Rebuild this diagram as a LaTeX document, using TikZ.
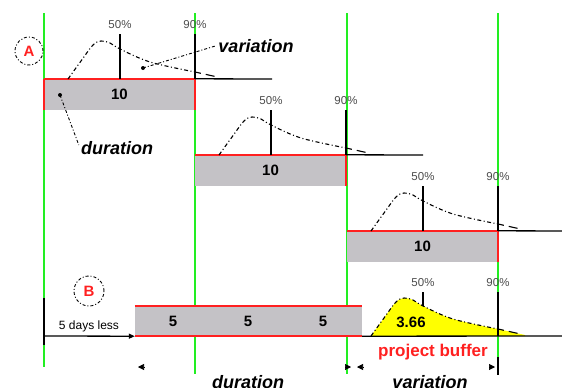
\documentclass[tikz,border=0pt]{standalone}
\usepackage{fontspec}
\setmainfont{Liberation Sans}
\usepackage{xcolor}
\usetikzlibrary{arrows.meta}
\definecolor{barfill}{HTML}{C4C2C6}
\definecolor{gridgreen}{HTML}{22EE22}
\definecolor{barred}{HTML}{FF2020}
\definecolor{bufyellow}{HTML}{FFFF00}
\newcommand{\distcurve}{plot[smooth,tension=0.55] coordinates {(24,0) (37,-18) (49,-34) (57,-38) (66,-36) (76,-30) (106,-17) (151,-7)}}

\begin{document}
\begin{tikzpicture}[x=1pt,y=-1pt,
  every node/.style={inner sep=0pt},
  gridline/.style={gridgreen, line width=1.3pt},
  redline/.style={barred, line width=1.5pt},
  axisline/.style={black, line width=1.3pt},
  markline/.style={black, line width=1.3pt},
  distline/.style={black, line width=1.1pt, dash pattern=on 4pt off 2.5pt on 1pt off 2.5pt},
  tailline/.style={black, line width=1.1pt, dash pattern=on 6pt off 5pt on 9pt off 20pt},
  leader/.style={black, line width=0.9pt, dash pattern=on 3pt off 2pt on 1pt off 2pt},
  taskbar/.style={fill=barfill, minimum width=151pt, minimum height=31pt, font=\fontsize{15}{17}\selectfont\bfseries},
  pctlbl/.style={font=\fontsize{11.5}{13}\selectfont, text=black!70},
  notelbl/.style={font=\fontsize{18}{20}\selectfont\bfseries\itshape},
  circlbl/.style={circle, draw, line width=0.9pt, dash pattern=on 3pt off 2pt on 1pt off 2pt, text=barred, font=\fontsize{15}{17}\selectfont\bfseries},
  dimtip/.style={-{Triangle[length=6pt,width=6pt]}, line width=0.6pt}]
  \useasboundingbox (0,0) rectangle (562,388);

  % time grid
  \foreach \gx/\gy in {44/367,195/374,347/374,498/374}
    \draw[gridline] (\gx,13) -- (\gx,\gy);

  % A: three tasks in series
  \foreach \i/\x/\y in {1/44/79,2/195/155,3/347/231} {
    \begin{scope}[shift={(\x,\y)}]
      \node[taskbar] (task\i) at (75.5,15.5) {10};
      \draw[redline] (task\i.south east) -- (task\i.north east) -- (task\i.north west);
      \draw[axisline] (task\i.north east) -- (228,0);
      \draw[distline] \distcurve;
      \draw[tailline] (151,-7) -- (178,-1);
      \draw[markline] (76,0) -- (76,-45);
      \draw[markline] (151,0) -- (151,-45);
      \node[pctlbl] (fifty\i) at (76,-54) {50\%};
      \node[pctlbl] (ninety\i) at (151,-54) {90\%};
    \end{scope}
  }
  \draw[redline] (task1.south west) -- (task1.north west);

  \node[circlbl, minimum size=28pt] (planA) at (29,51) {A};
  \node[notelbl] (varnote) at (256,46) {variation};
  \coordinate (vardot) at (143,68);
  \fill (vardot) circle (2);
  \draw[leader] (vardot) -- ([xshift=-3pt]varnote.west);
  \node[notelbl] (durnote) at (117,148) {duration};
  \coordinate (durdot) at (60,95);
  \fill (durdot) circle (2);
  \draw[leader] (durdot) -- ([xshift=-2pt,yshift=3pt]durnote.west);

  % B: shortened tasks plus project buffer
  \node[circlbl, minimum size=30pt] (planB) at (89,291) {B};
  \node[fill=barfill, minimum width=227pt, minimum height=30pt] (chain) at (248.5,321) {};
  \draw[redline] (chain.north west) -- (chain.north east);
  \draw[redline] (chain.south west) -- (chain.south east);
  \foreach \j/\sx in {1/173,2/248,3/323}
    \node[font=\fontsize{15}{17}\selectfont\bfseries] (short\j) at (\sx,321) {5};
  \draw[markline] (44,298) -- (44,345);
  \coordinate (bstart) at (44,336);
  \draw[axisline, -{Triangle[length=6pt,width=5pt]}] (bstart) -- (chain.south west);
  \node[font=\fontsize{12}{14}\selectfont] (gain) at (89,326) {5 days less};

  \begin{scope}[shift={(347,336)}]
    \fill[bufyellow] \distcurve -- (178,-1) -- (178,0) -- cycle;
    \draw[distline] \distcurve;
    \draw[tailline] (151,-7) -- (178,-1);
    \draw[markline] (76,-30) -- (76,-44);
    \draw[markline] (151,0) -- (151,-44);
    \node[pctlbl] (fifty4) at (76,-53) {50\%};
    \node[pctlbl] (ninety4) at (151,-53) {90\%};
    \node[font=\fontsize{15}{17}\selectfont\bfseries] (buffer) at (64,-14) {3.66};
  \end{scope}
  \draw[axisline] (chain.south east) -- (562,336);
  \node[font=\fontsize{17}{19}\selectfont\bfseries, text=barred] (bufname) at (433,352) {project buffer};

  % duration and variation spans
  \coordinate (durL) at (138,367);
  \coordinate (durR) at (351,367);
  \coordinate (varL) at (357,367);
  \coordinate (varR) at (495,367);
  \draw[dimtip] ([xshift=6pt]durL) -- (durL);
  \draw[dimtip] ([xshift=-6pt]durR) -- (durR);
  \draw[dimtip] ([xshift=6pt]varL) -- (varL);
  \draw[dimtip] ([xshift=-6pt]varR) -- (varR);
  \draw[markline] (498,357) -- (498,375);
  \node[notelbl] (durspan) at (248,382) {duration};
  \node[notelbl] (varspan) at (430,382) {variation};
\end{tikzpicture}
\end{document}
